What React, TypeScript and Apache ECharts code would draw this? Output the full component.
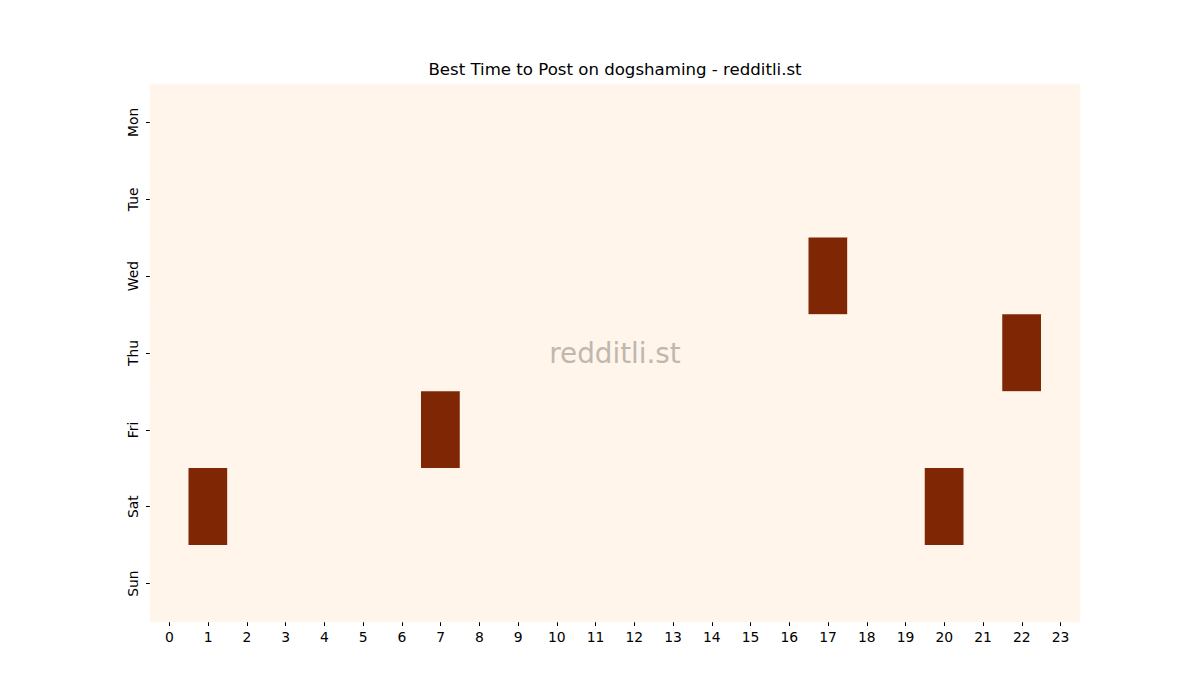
import { useEffect, useRef } from 'react';
import * as echarts from 'echarts';

const hours = Array.from({ length: 24 }, (_, i) => String(i));
const days = ['Mon', 'Tue', 'Wed', 'Thu', 'Fri', 'Sat', 'Sun'];

// best posting slots: [hour, dayIndex]
const bestSlots: [number, number][] = [
  [17, 2],
  [22, 3],
  [7, 4],
  [1, 5],
  [20, 5],
];

function App() {
  const chartRef = useRef<HTMLDivElement>(null);

  useEffect(() => {
    if (!chartRef.current) return;

    const cells: [number, number, number][] = [];
    for (let d = 0; d < days.length; d++) {
      for (let h = 0; h < hours.length; h++) {
        const hit = bestSlots.some(([sh, sd]) => sh === h && sd === d);
        cells.push([h, d, hit ? 1 : 0]);
      }
    }

    const font = 'DejaVu Sans';

    const option: echarts.EChartsOption = {
      animation: false,
      title: {
        text: 'Best Time to Post on dogshaming - redditli.st',
        left: 610,
        top: 56,
        textAlign: 'center',
        textStyle: { fontFamily: font, fontSize: 16.6, fontWeight: 'normal', color: '#000' },
      },
      grid: { left: 150, right: 120, top: 84, bottom: 78 },
      xAxis: {
        type: 'category',
        data: hours,
        axisLine: { show: false },
        axisTick: { show: true, alignWithLabel: true, length: 4, lineStyle: { color: '#000' } },
        axisLabel: { fontFamily: font, fontSize: 13.9, color: '#000', margin: 8, interval: 0 },
        splitLine: { show: false },
      },
      yAxis: {
        type: 'category',
        data: days,
        inverse: true,
        axisLine: { show: false },
        axisTick: { show: true, alignWithLabel: true, length: 4, lineStyle: { color: '#000' } },
        axisLabel: { fontFamily: font, fontSize: 13.9, color: '#000', rotate: 90, margin: 10 },
        splitLine: { show: false },
      },
      visualMap: {
        show: false,
        min: 0,
        max: 1,
        dimension: 2,
        inRange: { color: ['#fff5eb', '#7f2704'] },
      },
      series: [
        {
          type: 'heatmap',
          data: cells,
          itemStyle: { borderWidth: 0 },
          emphasis: { disabled: true },
        },
      ],
      graphic: [
        {
          type: 'text',
          x: 615,
          y: 353,
          z: 100,
          style: {
            text: 'redditli.st',
            fontFamily: font,
            fontSize: 27.8,
            fill: '#c0b7af',
            align: 'center',
            verticalAlign: 'middle',
          },
        },
      ],
    };

    const chart = echarts.init(chartRef.current, null, { renderer: 'svg' });
    chart.setOption(option);

    return () => {
      chart.dispose();
    };
  }, []);

  return <div ref={chartRef} style={{ width: '1200px', height: '700px', margin: '-8px' }} />;
}

export default App;
